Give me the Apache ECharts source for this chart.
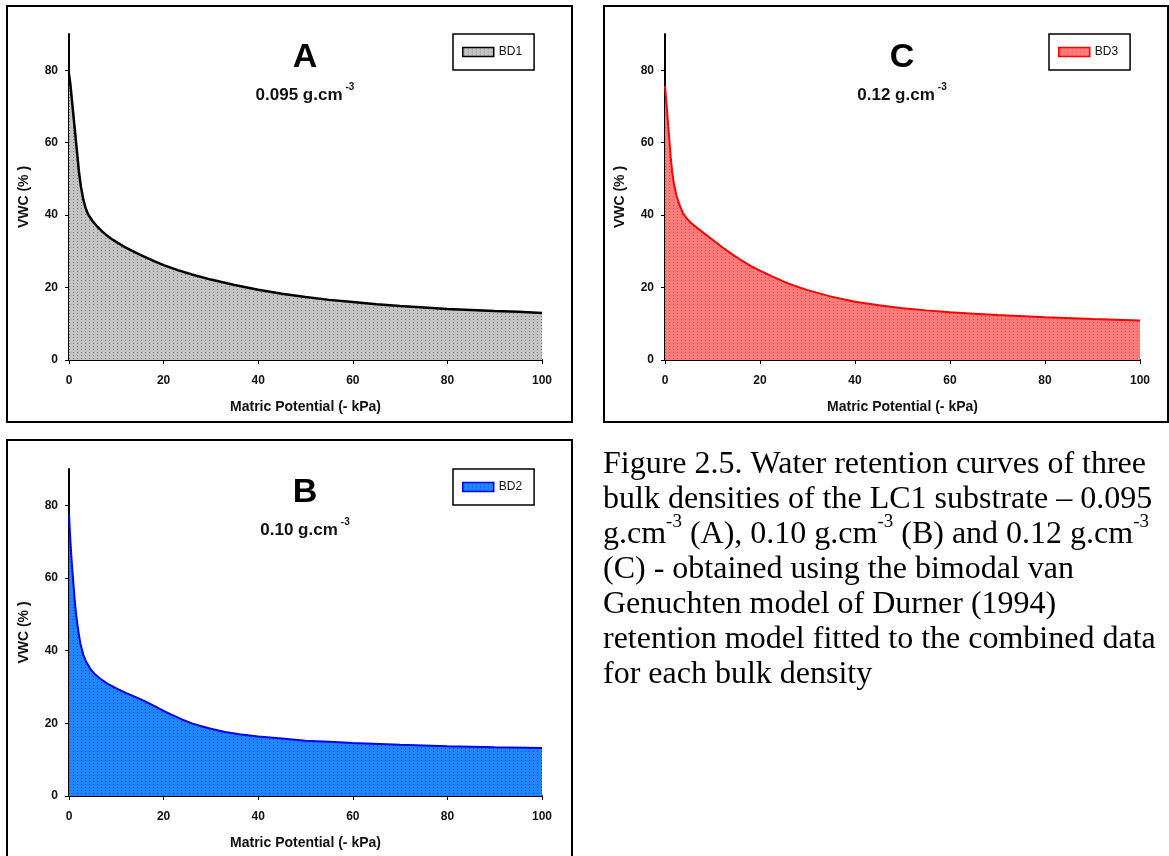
<!DOCTYPE html>
<html>
<head>
<meta charset="utf-8">
<script src="https://cdn.jsdelivr.net/npm/echarts@6/dist/echarts.min.js"></script>
<style>
html,body{margin:0;padding:0;background:#fff;}
#chart{width:1169px;height:856px;}
</style>
</head>
<body>
<div id="chart"></div>
<script>
// ---- data ----
const xTicks = [0, 20, 40, 60, 80, 100];
const yTicks = [0, 20, 40, 60, 80];

const bd1X = [0, 0.3, 0.6, 0.9, 1.2, 1.5, 1.8, 2.1, 2.5, 3, 3.5, 4, 5, 6, 7, 8, 9, 10, 12, 14, 16, 18, 20, 23, 26, 30, 35, 40, 45, 50, 55, 60, 65, 70, 75, 80, 85, 90, 95, 100];
const bd1Y = [79, 76, 72, 68, 64, 60, 56, 52, 48, 44.5, 42, 40.3, 38.3, 36.8, 35.5, 34.4, 33.4, 32.6, 31, 29.7, 28.5, 27.3, 26.2, 24.8, 23.6, 22.2, 20.7, 19.4, 18.3, 17.4, 16.6, 16.0, 15.4, 14.9, 14.5, 14.1, 13.8, 13.5, 13.3, 13.0];

const bd2X = [0, 0.3, 0.6, 0.9, 1.2, 1.5, 1.9, 2.4, 3, 3.6, 4.5, 5.5, 6.5, 8, 10, 12, 14, 16, 18, 20, 22, 24, 26, 28, 30, 33, 36, 40, 45, 50, 55, 60, 70, 80, 90, 100];
const bd2Y = [77.5, 70, 64, 59, 54, 50, 46, 42, 39, 37, 35, 33.5, 32.4, 31, 29.6, 28.4, 27.3, 26.1, 24.8, 23.4, 22.2, 21.0, 20.0, 19.2, 18.5, 17.6, 17.0, 16.4, 15.8, 15.2, 14.9, 14.6, 14.1, 13.7, 13.4, 13.2];

const bd3X = [0, 0.3, 0.6, 0.9, 1.2, 1.5, 1.9, 2.4, 3, 3.8, 4.5, 5.5, 7, 8.5, 10, 12, 14, 16, 18, 20, 23, 26, 30, 35, 40, 45, 50, 55, 60, 65, 70, 80, 90, 100];
const bd3Y = [75.6, 71, 66, 61, 56, 52, 48.5, 45.5, 43, 40.5, 39.2, 37.8, 36.2, 34.7, 33.2, 31.2, 29.3, 27.6, 26, 24.7, 22.8, 21.1, 19.3, 17.5, 16.1, 15.1, 14.3, 13.7, 13.2, 12.8, 12.4, 11.8, 11.3, 10.9];

const seriesNames = ['BD1', 'BD2', 'BD3'];
const panelLetters = ['A', 'B', 'C'];
const densities = ['0.095', '0.10', '0.12'];
const xAxisName = 'Matric Potential (- kPa)';
const yAxisName = 'VWC (% )';
const captionLines = [
  [['n', 'Figure 2.5. Water retention curves of three']],
  [['n', 'bulk densities of the LC1 substrate \u2013 0.095']],
  [['n', 'g.cm'], ['s', '-3'], ['n', ' (A), 0.10 g.cm'], ['s', '-3'], ['n', ' (B) and 0.12 g.cm'], ['s', '-3']],
  [['n', '(C) - obtained using the bimodal van']],
  [['n', 'Genuchten model of Durner (1994)']],
  [['n', 'retention model fitted to the combined data']],
  [['n', 'for each bulk density']]
];

function pairs(xs, ys) { return xs.map((x, i) => [x, ys[i]]); }

// ---- dotted fill patterns ----
function makePattern(base, dot) {
  const c = document.createElement('canvas');
  c.width = 4; c.height = 3;
  const g = c.getContext('2d');
  g.fillStyle = base; g.fillRect(0, 0, 4, 3);
  g.fillStyle = dot; g.fillRect(1, 1, 1, 1);
  return { image: c, repeat: 'repeat' };
}
const fills = [
  makePattern('#c4c4c4', '#7a7a7a'),
  makePattern('#1f86ff', '#0a55c8'),
  makePattern('#ff7c7c', '#ff4444')
];
const lineColors = ['#000000', '#0000ff', '#ff0000'];
const dataSets = [pairs(bd1X, bd1Y), pairs(bd2X, bd2Y), pairs(bd3X, bd3Y)];

// ---- layout ----
const grids = [
  { left: 69, top: 34, width: 473, height: 326 },
  { left: 69, top: 469, width: 473, height: 327 },
  { left: 665, top: 34, width: 475, height: 326 }
];
const frames = [
  { x: 7, y: 6, w: 565, h: 416 },
  { x: 7, y: 440, w: 565, h: 420 },
  { x: 604, y: 6, w: 564, h: 416 }
];
const legendPos = [
  { left: 453, top: 34 },
  { left: 453, top: 469 },
  { left: 1049, top: 34 }
];

const FONT = 'Liberation Sans, Arial, sans-serif';

const option = {
  backgroundColor: '#ffffff',
  animation: false,
  grid: grids.map(g => Object.assign({ containLabel: false }, g)),
  xAxis: grids.map((g, i) => ({
    type: 'value', gridIndex: i, min: 0, max: 100, interval: 20,
    name: xAxisName, nameLocation: 'middle', nameGap: 40,
    nameTextStyle: { fontFamily: FONT, fontWeight: 'bold', fontSize: 14, color: '#111' },
    axisLine: { lineStyle: { color: '#000', width: 2 } },
    axisTick: { show: true, length: 4, lineStyle: { color: '#000', width: 1 } },
    axisLabel: { fontFamily: FONT, fontWeight: 'bold', fontSize: 12, color: '#111', margin: 15 },
    splitLine: { show: false }
  })),
  yAxis: grids.map((g, i) => ({
    type: 'value', gridIndex: i, min: 0, max: 90, interval: 20,
    name: yAxisName, nameLocation: 'middle', nameGap: 38, nameRotate: 90,
    nameTextStyle: { fontFamily: FONT, fontWeight: 'bold', fontSize: 14, color: '#111' },
    axisLine: { show: true, lineStyle: { color: '#000', width: 2 } },
    axisTick: { show: true, length: 4, customValues: yTicks, lineStyle: { color: '#000', width: 1 } },
    axisLabel: { fontFamily: FONT, fontWeight: 'bold', fontSize: 12, color: '#111', margin: 11, customValues: yTicks },
    splitLine: { show: false }
  })),
  legend: seriesNames.map((n, i) => ({
    data: [{ name: n, itemStyle: { color: fills[i], borderColor: lineColors[i], borderWidth: 1.5 } }],
    left: legendPos[i].left, top: legendPos[i].top,
    orient: 'vertical', icon: 'rect', itemWidth: 31, itemHeight: 9, itemGap: 0,
    padding: [12, 12, 12, 9],
    borderColor: '#000', borderWidth: 1.5, backgroundColor: '#fff',
    selectedMode: false,
    textStyle: { fontFamily: FONT, fontSize: 12, color: '#111' }
  })),
  series: seriesNames.map((n, i) => ({
    name: n, type: 'line', xAxisIndex: i, yAxisIndex: i,
    data: dataSets[i], showSymbol: false, smooth: false,
    lineStyle: { color: lineColors[i], width: i === 0 ? 2.5 : 2 },
    itemStyle: { color: lineColors[i] },
    areaStyle: { color: fills[i], opacity: 1 },
    z: 2
  })),
  graphic: []
};

// frames
frames.forEach(f => {
  option.graphic.push({
    type: 'rect', shape: { x: f.x, y: f.y, width: f.w, height: f.h },
    style: { fill: null, stroke: '#000', lineWidth: 2 }, silent: true, z: 10
  });
});

// panel letters and densities
const letterPos = [ { x: 305, y: 58, dy: 93 }, { x: 305, y: 493, dy: 528 }, { x: 902, y: 58, dy: 93 } ];
[0, 1, 2].forEach(i => {
  const p = letterPos[i];
  option.graphic.push({
    type: 'text', x: p.x, y: p.y,
    style: { text: panelLetters[i], font: 'bold 34px ' + FONT, fill: '#000', align: 'center', verticalAlign: 'middle' }
  });
  option.graphic.push({
    type: 'text', x: p.x, y: p.dy,
    style: {
      text: '{n|' + densities[i] + ' g.cm}{s|-3}',
      align: 'center', verticalAlign: 'middle',
      rich: {
        n: { font: 'bold 17px ' + FONT, fill: '#111', verticalAlign: 'bottom', lineHeight: 21 },
        s: { font: 'bold 10px ' + FONT, fill: '#111', verticalAlign: 'top', lineHeight: 21, padding: [0, 0, 0, 3] }
      }
    }
  });
});

// caption
const capX = 603, capY0 = 481, capPitch = 35;
captionLines.forEach((line, k) => {
  const txt = line.map(seg => '{' + seg[0] + '|' + seg[1] + '}').join('');
  option.graphic.push({
    type: 'text', x: capX, y: capY0 + k * capPitch,
    style: {
      text: txt, align: 'left', verticalAlign: 'bottom',
      rich: {
        n: { font: '32px "Liberation Serif", "Times New Roman", serif', fill: '#000', verticalAlign: 'bottom', lineHeight: 38 },
        s: { font: '19px "Liberation Serif", "Times New Roman", serif', fill: '#000', verticalAlign: 'top', lineHeight: 38 }
      }
    }
  });
});

const chart = echarts.init(document.getElementById('chart'), null, { renderer: 'canvas' });
chart.setOption(option);
</script>
</body>
</html>
